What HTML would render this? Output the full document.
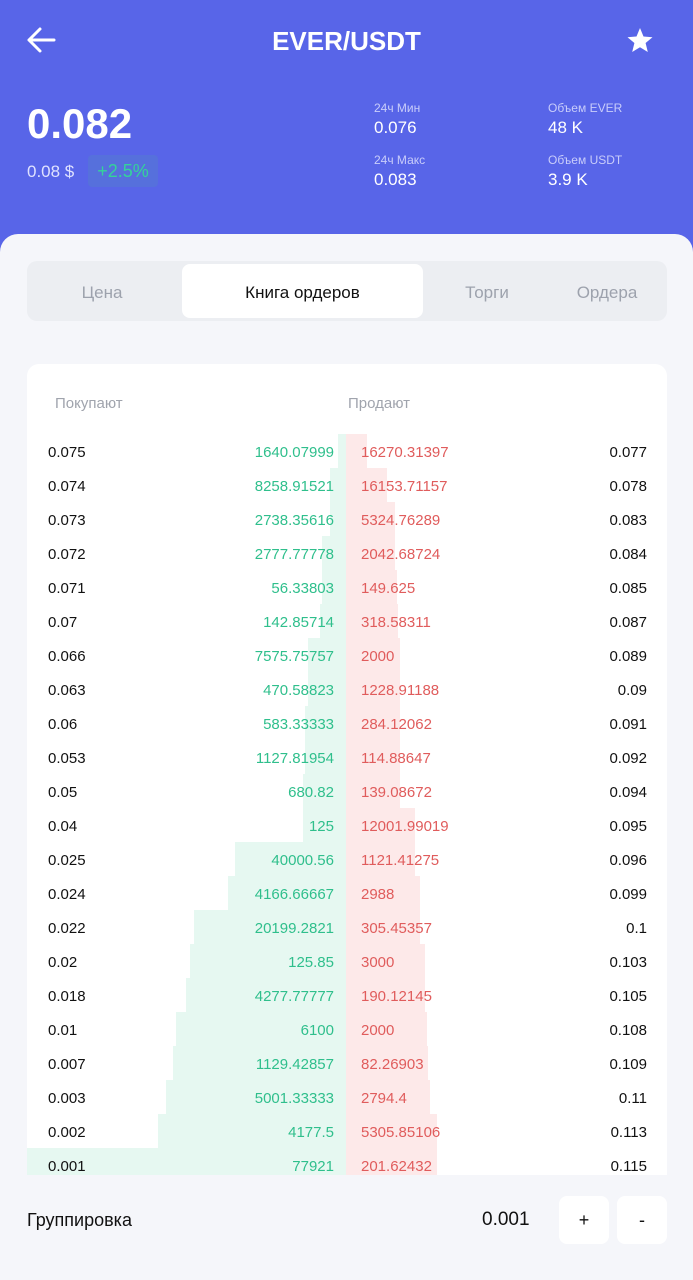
<!DOCTYPE html>
<html><head><meta charset="utf-8"><style>
body{margin:0;width:693px;height:1280px;overflow:hidden;background:#f5f6fa;font-family:"Liberation Sans",sans-serif;position:relative}
.abs{position:absolute}
#hdr{left:0;top:0;width:693px;height:260px;background:#5865e8}
#sheet{left:0;top:234px;width:693px;height:1046px;background:#f5f6fa;border-radius:18px 18px 0 0}
.w{color:#fff}
.lbl{font-size:12px;color:#c9cdfa}
.val{font-size:17px;color:#fff}
#tabs{left:27px;top:261px;width:640px;height:60px;background:#eceef2;border-radius:10px}
.tab{position:absolute;top:2px;height:60px;line-height:60px;font-size:17px;color:#9da2ad;text-align:center}
#book{left:27px;top:364px;width:640px;height:811px;background:#fff;border-radius:12px 12px 0 0;overflow:hidden}
.btn{width:50px;height:48px;background:#fff;border-radius:8px;text-align:center;line-height:48px;font-size:18px;color:#111}
</style></head><body>
<div class="abs" id="hdr"></div>
<svg class="abs" style="left:26px;top:26px" width="30" height="28"><path d="M3 14H28M3 14L14 3M3 14L14 25" stroke="#fff" stroke-width="3" fill="none" stroke-linecap="round"/></svg>
<div class="abs w" style="left:0;width:693px;top:26px;text-align:center;font-size:26px;font-weight:bold">EVER/USDT</div>
<svg class="abs" style="left:626px;top:27px" width="28" height="27"><path d="M14 1L17.5 9.5 26.5 10.2 19.6 16 21.8 25 14 20.2 6.2 25 8.4 16 1.5 10.2 10.5 9.5Z" fill="#fff"/></svg>
<div class="abs w" style="left:27px;top:100px;font-size:42px;font-weight:bold">0.082</div>
<div class="abs" style="left:27px;top:162px;font-size:17px;color:#dfe2ff">0.08 $</div>
<div class="abs" style="left:88px;top:155px;width:70px;height:32px;line-height:32px;text-align:center;background:#5670dc;color:#34d39a;font-size:18px;border-radius:4px">+2.5%</div>
<div class="abs lbl" style="left:374px;top:101px">24ч Мин</div>
<div class="abs val" style="left:374px;top:118px">0.076</div>
<div class="abs lbl" style="left:374px;top:153px">24ч Макс</div>
<div class="abs val" style="left:374px;top:170px">0.083</div>
<div class="abs lbl" style="left:548px;top:101px">Объем EVER</div>
<div class="abs val" style="left:548px;top:118px">48 K</div>
<div class="abs lbl" style="left:548px;top:153px">Объем USDT</div>
<div class="abs val" style="left:548px;top:170px">3.9 K</div>
<div class="abs" id="sheet"></div>
<div class="abs" id="tabs">
<div class="tab" style="left:0;width:150px">Цена</div>
<div class="tab" style="left:155px;top:3px;width:241px;height:54px;line-height:58px;background:#fff;color:#111;border-radius:8px">Книга ордеров</div>
<div class="tab" style="left:400px;width:120px">Торги</div>
<div class="tab" style="left:520px;width:120px">Ордера</div>
</div>
<div class="abs" id="book">
<div class="abs" style="left:28px;top:31px;font-size:15px;color:#a0a4ad">Покупают</div>
<div class="abs" style="left:321px;top:31px;font-size:15px;color:#a0a4ad">Продают</div>
<div id="rows"></div>
</div>
<div class="abs" style="left:27px;top:1210px;font-size:18px;color:#111">Группировка</div>
<div class="abs" style="left:482px;top:1209px;font-size:19px;color:#111">0.001</div>
<div class="abs btn" style="left:559px;top:1196px">+</div>
<div class="abs btn" style="left:617px;top:1196px">-</div>
<script>
const buyPrices=["0.075","0.074","0.073","0.072","0.071","0.07","0.066","0.063","0.06","0.053","0.05","0.04","0.025","0.024","0.022","0.02","0.018","0.01","0.007","0.003","0.002","0.001"];
const buyAmounts=["1640.07999","8258.91521","2738.35616","2777.77778","56.33803","142.85714","7575.75757","470.58823","583.33333","1127.81954","680.82","125","40000.56","4166.66667","20199.2821","125.85","4277.77777","6100","1129.42857","5001.33333","4177.5","77921"];
const buyDepth=[8,16,16,24,24,26,38,38,41,41,43,43,111,118,152,156,160,170,173,180,188,319];
const sellPrices=["0.077","0.078","0.083","0.084","0.085","0.087","0.089","0.09","0.091","0.092","0.094","0.095","0.096","0.099","0.1","0.103","0.105","0.108","0.109","0.11","0.113","0.115"];
const sellAmounts=["16270.31397","16153.71157","5324.76289","2042.68724","149.625","318.58311","2000","1228.91188","284.12062","114.88647","139.08672","12001.99019","1121.41275","2988","305.45357","3000","190.12145","2000","82.26903","2794.4","5305.85106","201.62432"];
const sellDepth=[21,41,49,49,51,52,54,54,54,54,54,69,69,74,74,79,79,81,82,84,91,91];
const mid=319,rowH=34,top0=70;
const yPos=i=>top0+i*rowH;
const buyX=d=>mid-d, sellW=d=>d;
const rows=document.getElementById('rows');
function mk(css,txt){const d=document.createElement('div');d.style.cssText='position:absolute;'+css;if(txt!==undefined)d.textContent=txt;rows.appendChild(d);return d;}
buyPrices.forEach((p,i)=>{
 const y=yPos(i);
 const b=mk(`left:${buyX(buyDepth[i])}px;top:${y}px;width:${buyDepth[i]}px;height:${rowH}px;background:#e6f8f1`);
 
 
 const s=mk(`left:${mid}px;top:${y}px;width:${sellW(sellDepth[i])}px;height:${rowH}px;background:#fde9e9`);
 
 
});
buyPrices.forEach((p,i)=>{
 const y=yPos(i)+10;
 const a=mk(`left:21px;top:${y}px;font-size:15px;color:#111`,p);
 
 
 const b=mk(`right:333px;top:${y}px;font-size:15px;color:#2fbf8c`,buyAmounts[i]);
 
 
 const c=mk(`left:334px;top:${y}px;font-size:15px;color:#e05c5c`,sellAmounts[i]);
 
 
 const d=mk(`right:20px;top:${y}px;font-size:15px;color:#111`,sellPrices[i]);
 
 
});
</script>
</body></html>
